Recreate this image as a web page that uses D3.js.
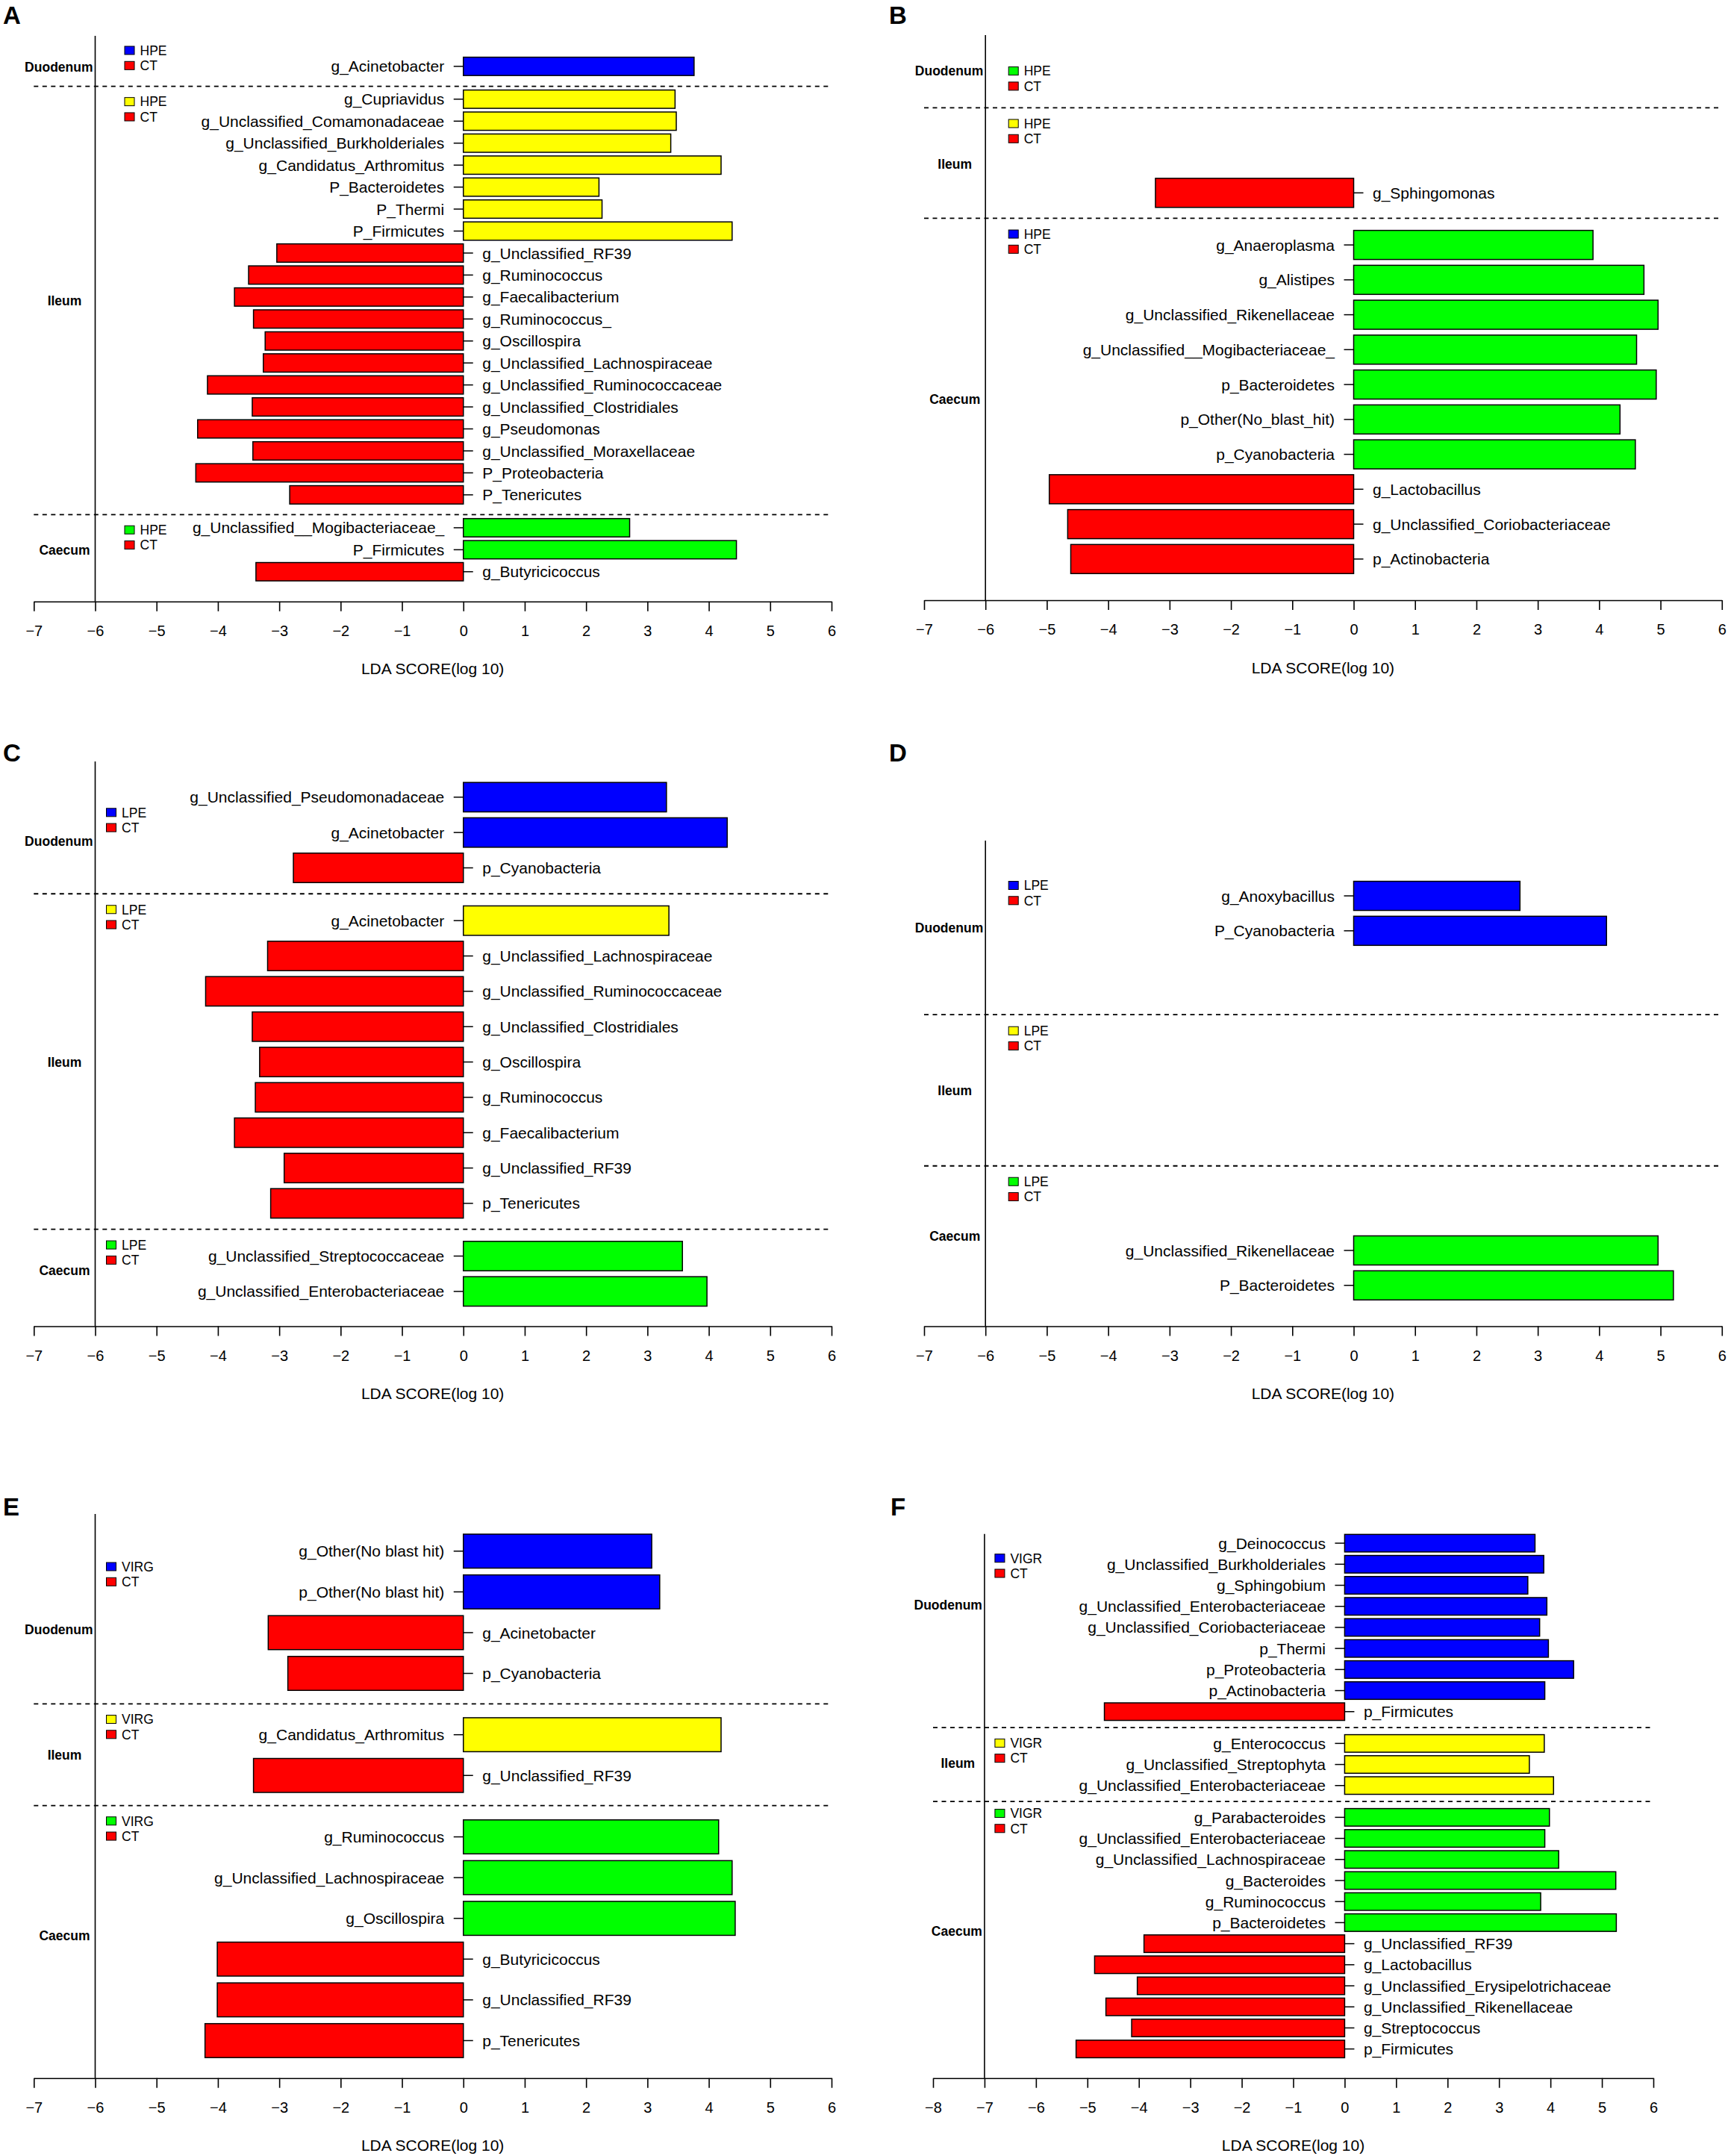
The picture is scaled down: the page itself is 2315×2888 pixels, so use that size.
<!DOCTYPE html>
<html><head><meta charset="utf-8">
<script src="https://cdn.jsdelivr.net/npm/d3@7/dist/d3.min.js"></script>
<style>
body{margin:0;background:#fff}
svg{display:block}
text{font-family:"Liberation Sans", Arial, Helvetica, sans-serif;fill:#000}
</style>
</head><body>
<svg id="fig" width="2315" height="2888"></svg>
<script>
// ---------------- DATA ----------------
const sectionNames = ["Duodenum", "Ileum", "Caecum"];
const ticksStd = [-7, -6, -5, -4, -3, -2, -1, 0, 1, 2, 3, 4, 5, 6];
const ticksWide = [-8, -7, -6, -5, -4, -3, -2, -1, 0, 1, 2, 3, 4, 5, 6];
const axisTitle = "LDA SCORE(log 10)";
const controlGroup = "CT";

// Panel A (HPE vs CT)
const A_duo_taxa = ["g_Acinetobacter"];
const A_duo_lda = [3.76];
const A_ile_taxa = ["g_Cupriavidus", "g_Unclassified_Comamonadaceae", "g_Unclassified_Burkholderiales",
  "g_Candidatus_Arthromitus", "P_Bacteroidetes", "P_Thermi", "P_Firmicutes", "g_Unclassified_RF39",
  "g_Ruminococcus", "g_Faecalibacterium", "g_Ruminococcus_", "g_Oscillospira",
  "g_Unclassified_Lachnospiraceae", "g_Unclassified_Ruminococcaceae", "g_Unclassified_Clostridiales",
  "g_Pseudomonas", "g_Unclassified_Moraxellaceae", "P_Proteobacteria", "P_Tenericutes"];
const A_ile_lda = [3.45, 3.47, 3.38, 4.20, 2.21, 2.26, 4.38, -3.04, -3.50, -3.73, -3.42, -3.23,
  -3.26, -4.17, -3.44, -4.33, -3.43, -4.36, -2.83];
const A_cae_taxa = ["g_Unclassified__Mogibacteriaceae_", "P_Firmicutes", "g_Butyricicoccus"];
const A_cae_lda = [2.71, 4.45, -3.38];

// Panel B (HPE vs CT)
const B_duo_taxa = [];
const B_duo_lda = [];
const B_ile_taxa = ["g_Sphingomonas"];
const B_ile_lda = [-3.23];
const B_cae_taxa = ["g_Anaeroplasma", "g_Alistipes", "g_Unclassified_Rikenellaceae",
  "g_Unclassified__Mogibacteriaceae_", "p_Bacteroidetes", "p_Other(No_blast_hit)", "p_Cyanobacteria",
  "g_Lactobacillus", "g_Unclassified_Coriobacteriaceae", "p_Actinobacteria"];
const B_cae_lda = [3.90, 4.73, 4.96, 4.61, 4.93, 4.34, 4.59, -4.96, -4.66, -4.61];

// Panel C (LPE vs CT)
const C_duo_taxa = ["g_Unclassified_Pseudomonadaceae", "g_Acinetobacter", "p_Cyanobacteria"];
const C_duo_lda = [3.31, 4.30, -2.77];
const C_ile_taxa = ["g_Acinetobacter", "g_Unclassified_Lachnospiraceae", "g_Unclassified_Ruminococcaceae",
  "g_Unclassified_Clostridiales", "g_Oscillospira", "g_Ruminococcus", "g_Faecalibacterium",
  "g_Unclassified_RF39", "p_Tenericutes"];
const C_ile_lda = [3.35, -3.19, -4.20, -3.44, -3.32, -3.39, -3.73, -2.92, -3.14];
const C_cae_taxa = ["g_Unclassified_Streptococcaceae", "g_Unclassified_Enterobacteriaceae"];
const C_cae_lda = [3.57, 3.97];

// Panel D (LPE vs CT)
const D_duo_taxa = ["g_Anoxybacillus", "P_Cyanobacteria"];
const D_duo_lda = [2.71, 4.12];
const D_ile_taxa = [];
const D_ile_lda = [];
const D_cae_taxa = ["g_Unclassified_Rikenellaceae", "P_Bacteroidetes"];
const D_cae_lda = [4.96, 5.21];

// Panel E (VIRG vs CT)
const E_duo_taxa = ["g_Other(No blast hit)", "p_Other(No blast hit)", "g_Acinetobacter", "p_Cyanobacteria"];
const E_duo_lda = [3.07, 3.20, -3.18, -2.86];
const E_ile_taxa = ["g_Candidatus_Arthromitus", "g_Unclassified_RF39"];
const E_ile_lda = [4.20, -3.42];
const E_cae_taxa = ["g_Ruminococcus", "g_Unclassified_Lachnospiraceae", "g_Oscillospira",
  "g_Butyricicoccus", "g_Unclassified_RF39", "p_Tenericutes"];
const E_cae_lda = [4.16, 4.38, 4.43, -4.01, -4.01, -4.21];

// Panel F (VIGR vs CT)
const F_duo_taxa = ["g_Deinococcus", "g_Unclassified_Burkholderiales", "g_Sphingobium",
  "g_Unclassified_Enterobacteriaceae", "g_Unclassified_Coriobacteriaceae", "p_Thermi",
  "p_Proteobacteria", "p_Actinobacteria", "p_Firmicutes"];
const F_duo_lda = [3.70, 3.87, 3.56, 3.93, 3.79, 3.96, 4.45, 3.89, -4.67];
const F_ile_taxa = ["g_Enterococcus", "g_Unclassified_Streptophyta", "g_Unclassified_Enterobacteriaceae"];
const F_ile_lda = [3.88, 3.59, 4.06];
const F_cae_taxa = ["g_Parabacteroides", "g_Unclassified_Enterobacteriaceae", "g_Unclassified_Lachnospiraceae",
  "g_Bacteroides", "g_Ruminococcus", "p_Bacteroidetes", "g_Unclassified_RF39", "g_Lactobacillus",
  "g_Unclassified_Erysipelotrichaceae", "g_Unclassified_Rikenellaceae", "g_Streptococcus", "p_Firmicutes"];
const F_cae_lda = [3.98, 3.89, 4.16, 5.27, 3.81, 5.28, -3.90, -4.86, -4.03, -4.64, -4.14, -5.22];

// ---------------- STYLE ----------------
const sectionColors = ["#0000FF", "#FFFF00", "#00FF00"];
const ctColor = "#FF0000";

const panels = [
  {id: "A", group: "HPE", ticks: ticksStd, legendColors: sectionColors,
   sections: [[A_duo_taxa, A_duo_lda], [A_ile_taxa, A_ile_lda], [A_cae_taxa, A_cae_lda]]},
  {id: "B", group: "HPE", ticks: ticksStd, legendColors: ["#00FF00", "#FFFF00", "#0000FF"],
   sections: [[B_duo_taxa, B_duo_lda], [B_ile_taxa, B_ile_lda], [B_cae_taxa, B_cae_lda]]},
  {id: "C", group: "LPE", ticks: ticksStd, legendColors: sectionColors,
   sections: [[C_duo_taxa, C_duo_lda], [C_ile_taxa, C_ile_lda], [C_cae_taxa, C_cae_lda]]},
  {id: "D", group: "LPE", ticks: ticksStd, legendColors: sectionColors,
   sections: [[D_duo_taxa, D_duo_lda], [D_ile_taxa, D_ile_lda], [D_cae_taxa, D_cae_lda]]},
  {id: "E", group: "VIRG", ticks: ticksStd, legendColors: sectionColors,
   sections: [[E_duo_taxa, E_duo_lda], [E_ile_taxa, E_ile_lda], [E_cae_taxa, E_cae_lda]]},
  {id: "F", group: "VIGR", ticks: ticksWide, legendColors: sectionColors,
   sections: [[F_duo_taxa, F_duo_lda], [F_ile_taxa, F_ile_lda], [F_cae_taxa, F_cae_lda]]}
];

// layout (pixels / slot units), separate from data
const layouts = {
  A: {letter: [4, 32], xr: [45.3, 1114], top: 48.1, axis: 805.8,
      sec: [[1.385, 0.906], [0.587, 0.9], [0.597, 1.358]],
      leg: [19.4, 20.6, 20.4], lab: [41.1, 287.6, 46.9], legDx: 39.5, labDx: 41},
  B: {letter: [1191, 32], xr: [1238, 2306.8], top: 46.9, axis: 804,
      sec: [[2.085, 0], [2.438, 0.729], [0.763, 1.18]],
      leg: [48.2, 21.1, 21.1], lab: [48.2, 75.6, 242.3], legDx: 31, labDx: 41},
  C: {letter: [4, 1020], xr: [45.3, 1114], top: 1020, axis: 1776.5,
      sec: [[1.01, 0.734], [0.759, 0.734], [0.757, 0.985]],
      leg: [68.3, 21, 20.9], lab: [106.7, 225.4, 55.1], legDx: 15, labDx: 41},
  D: {letter: [1191, 1020], xr: [1238, 2306.8], top: 1126.1, axis: 1776.5,
      sec: [[1.58, 2.40], [4.33, 0], [2.42, 1.17]],
      leg: [59.9, 21.6, 21], lab: [116.3, 101.9, 93.5], legDx: 31, labDx: 41},
  E: {letter: [4, 2030], xr: [45.3, 1114], top: 2028, axis: 2783.7,
      sec: [[0.912, 0.747], [0.758, 0.738], [0.769, 0.921]],
      leg: [70.5, 20.7, 20.7], lab: [155.1, 68.6, 173.9], legDx: 15, labDx: 41},
  F: {letter: [1193, 2030], xr: [1250, 2215], top: 2054.7, axis: 2783.7,
      sec: [[0.44, 0.755], [0.755, 0.755], [0.755, 1.385]],
      leg: [32.5, 20.8, 15.9], lab: [95.2, 47.4, 173.9], legDx: 14, labDx: 35.6}
};

const svg = d3.select("#fig");
svg.append("rect").attr("width", 2315).attr("height", 2888).attr("fill", "#fff");

function drawPanel(p) {
  const L = layouts[p.id];
  const g = svg.append("g").attr("class", "panel-" + p.id);
  const xmin = p.ticks[0], xmax = p.ticks[p.ticks.length - 1];
  const x = d3.scaleLinear().domain([xmin, xmax]).range(L.xr);

  // section geometry in slot units
  let u = 0;
  const secs = p.sections.map(([taxa, lda], i) => {
    const [lead, tail] = L.sec[i];
    const start = u;
    const n = taxa.length;
    const bars = taxa.map((t, j) => ({taxon: t, lda: lda[j], c: start + lead + j}));
    const end = n ? start + lead + (n - 1) + tail : start + lead + tail;
    u = end;
    return {i, start, end, bars};
  });
  const y = d3.scaleLinear().domain([0, u]).range([L.top, L.axis]);
  const half = 0.5 / 1.2;

  // panel letter
  g.append("text").attr("x", L.letter[0]).attr("y", L.letter[1])
    .attr("font-size", 33).attr("font-weight", "bold").text(p.id);

  // vertical reference line
  const vx = x(xmin + 1);
  g.append("line").attr("x1", vx).attr("x2", vx).attr("y1", y(0)).attr("y2", y(u))
    .attr("stroke", "#000").attr("stroke-width", 1.6);

  // dashed separators
  secs.slice(1).forEach(s => {
    g.append("line").attr("x1", x(xmin)).attr("x2", x(xmax))
      .attr("y1", y(s.start)).attr("y2", y(s.start))
      .attr("stroke", "#000").attr("stroke-width", 1.8).attr("stroke-dasharray", "6,5.5");
  });

  secs.forEach(s => {
    const sy = y(s.start);
    // bars
    const bg = g.append("g");
    bg.selectAll("rect").data(s.bars).join("rect")
      .attr("x", d => Math.min(x(0), x(d.lda)))
      .attr("width", d => Math.abs(x(d.lda) - x(0)))
      .attr("y", d => y(d.c - half))
      .attr("height", d => y(d.c + half) - y(d.c - half))
      .attr("fill", d => d.lda >= 0 ? sectionColors[s.i] : ctColor)
      .attr("stroke", "#000").attr("stroke-width", 1.5);
    // small tick marks
    bg.selectAll("line").data(s.bars).join("line")
      .attr("x1", x(0))
      .attr("x2", d => d.lda >= 0 ? x(0) - 13 : x(0) + 13)
      .attr("y1", d => y(d.c)).attr("y2", d => y(d.c))
      .attr("stroke", "#000").attr("stroke-width", 1.5);
    // labels
    bg.selectAll("text").data(s.bars).join("text")
      .attr("x", d => d.lda >= 0 ? x(0) - 25.5 : x(0) + 25.5)
      .attr("y", d => y(d.c)).attr("dy", "0.36em")
      .attr("text-anchor", d => d.lda >= 0 ? "end" : "start")
      .attr("font-size", 21).text(d => d.taxon);

    // legend
    const lx = vx + L.legDx;
    const items = [{name: p.group, color: p.legendColors[s.i]}, {name: controlGroup, color: ctColor}];
    items.forEach((it, k) => {
      const ly = sy + L.leg[s.i] + k * 20.3;
      g.append("rect").attr("x", lx).attr("y", ly - 5.5).attr("width", 13).attr("height", 11)
        .attr("fill", it.color).attr("stroke", "#000").attr("stroke-width", 1);
      g.append("text").attr("x", lx + 20.5).attr("y", ly).attr("dy", "0.36em")
        .attr("font-size", 17.5).text(it.name);
    });

    // section label
    const t = g.append("text").attr("y", sy + L.lab[s.i]).attr("dy", "0.36em")
      .attr("font-size", 17.5).attr("font-weight", "bold").attr("text-anchor", "middle")
      .text(sectionNames[s.i]);
    let cx = vx - L.labDx;
    const w = t.node().getComputedTextLength();
    if (cx + w / 2 > vx - 3) cx = vx - 3 - w / 2;
    t.attr("x", cx);
  });

  // x axis
  const ax = g.append("g").attr("transform", `translate(0,${L.axis})`)
    .call(d3.axisBottom(x).tickValues(p.ticks).tickSize(13).tickSizeOuter(0).tickPadding(19)
      .tickFormat(d3.format("d")));
  ax.select(".domain").attr("stroke", "#000").attr("stroke-width", 1.6);
  ax.selectAll(".tick line").attr("stroke", "#000").attr("stroke-width", 1.6);
  ax.selectAll(".tick text").attr("font-size", 20).attr("fill", "#000")
    .attr("font-family", "'Liberation Sans', Arial, sans-serif");

  g.append("text").attr("x", (L.xr[0] + L.xr[1]) / 2).attr("y", L.axis + 97.5)
    .attr("text-anchor", "middle").attr("font-size", 21).text(axisTitle);
}

panels.forEach(drawPanel);
</script>
</body></html>
